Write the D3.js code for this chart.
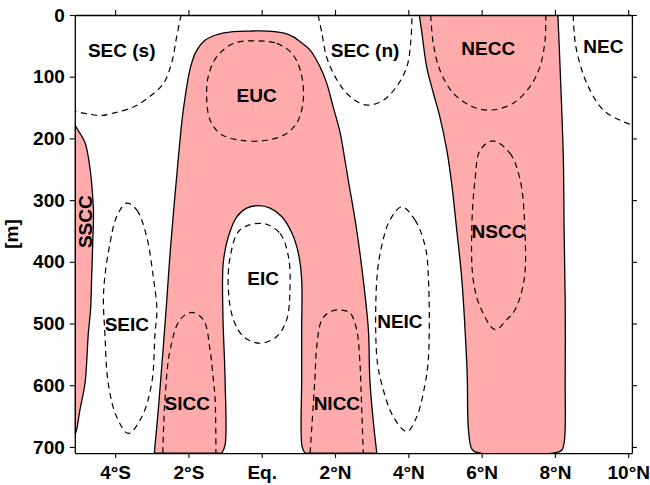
<!DOCTYPE html>
<html>
<head>
<meta charset="utf-8">
<script src="https://cdn.jsdelivr.net/npm/d3@7"></script>
<style>
  html, body { margin: 0; padding: 0; background: #fff; }
  svg { display: block; font-family: "Liberation Sans", Arial, Helvetica, sans-serif; }
</style>
</head>
<body>
<svg id="chart" width="650" height="485"></svg>
<script>
// ---------------- data (latitude [deg, N positive], depth [m]) ----------------
const latTicks = [-4, -2, 0, 2, 4, 6, 8, 10];
const latLabels = ["4°S", "2°S", "Eq.", "2°N", "4°N", "6°N", "8°N", "10°N"];
const depthTicks = [0, 100, 200, 300, 400, 500, 600, 700];

// filled (eastward) regions
const ssccRegion = [[-5.1,178],[-5.02,186],[-4.82,207],[-4.68,251],[-4.62,288],[-4.59,320],[-4.61,369],
  [-4.64,425],[-4.67,478],[-4.73,515],[-4.82,596],[-4.96,640],[-5.05,672],[-5.1,681]];
const eucOuter = [[-2.93,710],[-2.80,624],[-2.59,462],[-2.50,386],[-2.28,235],[-2.14,154],[-1.94,84],
  [-1.77,57],[-1.55,41],[-1.23,32],[-0.78,27],[-0.32,26],[0.14,26],[0.58,29],[0.85,35],[1.13,47],
  [1.32,57],[1.59,84],[1.77,110],[1.95,149],[2.14,191],[2.27,235],[2.36,267],[2.59,348],[2.77,429],
  [2.91,510],[2.95,591],[3.04,656],[3.14,710]];
const eucInner = [[1.18,710],[1.10,699],[1.09,591],[1.09,510],[1.09,429],[1.00,386],[0.82,353],
  [0.55,327],[0.23,313],[-0.09,309],[-0.41,313],[-0.68,327],[-0.91,359],[-1.05,402],[-1.06,483],
  [-1.00,591],[-1.00,697],[-1.09,710]];
const neccRegion = [[4.30,0],[4.37,29],[4.50,84],[4.68,126],[4.86,165],[5.05,219],[5.18,272],[5.32,348],
  [5.46,429],[5.59,559],[5.61,591],[5.64,672],[5.73,703],[5.87,709],[8.05,709],[8.19,705],[8.26,689],
  [8.28,591],[8.28,462],[8.25,348],[8.23,235],[8.14,84],[8.08,0]];

// dashed (westward) contours
const secS = [[-2.20,0],[-2.32,35],[-2.46,78],[-2.68,111],[-3.05,132],[-3.50,149],[-4.05,159],
  [-4.41,163],[-4.77,160],[-5.10,156]];
const secN = [[1.54,0],[1.64,29],[1.77,68],[2.05,105],[2.41,132],[2.86,146],[3.32,138],[3.68,116],
  [3.96,84],[4.07,41],[4.10,0]];
const neccDash = [[4.61,0],[4.68,46],[4.86,89],[5.23,127],[5.77,149],[6.28,154],[6.86,143],[7.32,116],
  [7.59,84],[7.73,41],[7.75,0]];
const nec = [[8.50,0],[8.52,25],[8.59,57],[8.87,111],[9.32,154],[9.87,173],[10.1,178]];
const sicc = [[-2.70,710],[-2.64,624],[-2.50,543],[-2.23,494],[-1.91,482],[-1.59,494],[-1.41,543],
  [-1.32,591],[-1.27,624],[-1.25,710]];
const nicc = [[1.32,710],[1.45,591],[1.50,538],[1.64,494],[1.86,481],[2.14,478],[2.41,483],[2.59,510],
  [2.68,564],[2.70,591],[2.77,710]];
const eucDash = [[-0.09,42],[0.41,46],[0.82,62],[1.05,89],[1.14,132],[1.00,170],[0.68,192],[0.14,203],
  [-0.59,203],[-1.14,192],[-1.41,170],[-1.50,138],[-1.46,100],[-1.23,68],[-0.77,46]];
const nscc = [[6.31,204],[6.77,224],[7.05,267],[7.18,348],[7.16,429],[6.91,478],[6.68,494],[6.37,510],
  [5.96,473],[5.77,429],[5.73,348],[5.82,267],[5.96,219]];
const seic = [[-3.69,305],[-3.41,316],[-3.14,359],[-2.96,424],[-2.86,478],[-2.91,515],[-3.00,596],
  [-3.27,651],[-3.64,678],[-3.96,651],[-4.19,596],[-4.28,515],[-4.32,462],[-4.28,424],[-4.14,370],[-3.96,327]];
const eic = [[0.04,338],[0.50,354],[0.73,392],[0.77,446],[0.68,494],[0.41,521],[-0.05,532],[-0.50,521],
  [-0.77,494],[-0.91,446],[-0.86,392],[-0.59,348]];
const neic = [[3.82,311],[4.18,332],[4.46,375],[4.55,429],[4.55,554],[4.46,597],[4.23,651],[3.96,675],
  [3.59,651],[3.27,597],[3.14,554],[3.14,429],[3.27,375],[3.50,332]];

// current names and their anchor (lat, depth)
const labelNames = ["SEC (s)", "EUC", "SEC (n)", "NECC", "NEC", "EIC", "NSCC", "SEIC", "NEIC", "SICC", "NICC"];
const labelLat   = [-3.82, -0.14, 2.82, 6.18, 9.32, 0.04, 6.46, -3.68, 3.77, -2.03, 2.05];
const labelDepth = [57, 130, 57, 54, 51, 427, 351, 502, 497, 630, 629];
const rotLabel = {name: "SSCC", lat: -4.82, depth: 335};

// ---------------- drawing ----------------
const svg = d3.select("#chart");
const x = d3.scaleLinear().domain([-5.1, 10.1]).range([74.8, 631.9]);
const y = d3.scaleLinear().domain([0, 710]).range([15, 453.1]);

const FILL = "#ffabab";
const FONT = 19;

svg.append("defs").append("clipPath").attr("id", "clip")
  .append("rect").attr("x", x(-5.1)).attr("y", y(0))
  .attr("width", x(10.1) - x(-5.1)).attr("height", y(710) - y(0));

const plot = svg.append("g").attr("clip-path", "url(#clip)");

const open = d3.line().x(d => x(d[0])).y(d => y(d[1])).curve(d3.curveCatmullRom.alpha(0.5));
const closed = d3.line().x(d => x(d[0])).y(d => y(d[1])).curve(d3.curveCatmullRomClosed.alpha(0.5));

const regionPaths = [
  open(ssccRegion) + "Z",
  open(eucOuter) + open(eucInner).replace(/^M/, "L") + "Z",
  open(neccRegion) + "Z"
];
plot.selectAll("path.region").data(regionPaths).join("path")
  .attr("class", "region")
  .attr("d", d => d)
  .attr("fill", FILL)
  .attr("stroke", "#000")
  .attr("stroke-width", 1.3)
  .attr("stroke-linejoin", "round");

const openDashed = [secS, secN, neccDash, nec, sicc, nicc];
const closedDashed = [eucDash, nscc, seic, eic, neic];
plot.selectAll("path.dopen").data(openDashed).join("path")
  .attr("class", "dopen").attr("d", open)
  .attr("fill", "none").attr("stroke", "#000").attr("stroke-width", 1.2)
  .attr("stroke-dasharray", "6,4.5");
plot.selectAll("path.dclosed").data(closedDashed).join("path")
  .attr("class", "dclosed").attr("d", closed)
  .attr("fill", "none").attr("stroke", "#000").attr("stroke-width", 1.2)
  .attr("stroke-dasharray", "6,4.5");

// labels
svg.selectAll("text.cur").data(labelNames).join("text")
  .attr("class", "cur")
  .attr("x", (d, i) => x(labelLat[i]))
  .attr("y", (d, i) => y(labelDepth[i]))
  .attr("dy", "0.35em")
  .attr("text-anchor", "middle")
  .attr("font-size", FONT).attr("font-weight", "bold")
  .attr("fill", "#000")
  .text(d => d);
svg.append("text")
  .attr("transform", `translate(${x(rotLabel.lat)},${y(rotLabel.depth)}) rotate(-90)`)
  .attr("dy", "0.35em")
  .attr("text-anchor", "middle")
  .attr("font-size", FONT).attr("font-weight", "bold")
  .text(rotLabel.name);

// axes
function styleAxis(g) {
  g.select(".domain").attr("stroke", "#000").attr("stroke-width", 1.3);
  g.selectAll(".tick line").attr("stroke", "#000").attr("stroke-width", 1.1);
  g.selectAll(".tick text").attr("font-size", FONT).attr("font-weight", "bold")
    .attr("font-family", '"Liberation Sans", Arial, sans-serif').attr("fill", "#000");
}
svg.append("g").attr("transform", `translate(0,${y(710)})`)
  .call(d3.axisBottom(x).tickValues(latTicks).tickFormat((d, i) => latLabels[i])
    .tickSize(5).tickSizeOuter(0).tickPadding(7.5))
  .call(styleAxis);
svg.append("g").attr("transform", `translate(0,${y(0)})`)
  .call(d3.axisTop(x).tickValues(latTicks).tickFormat("").tickSize(5).tickSizeOuter(0))
  .call(styleAxis);
svg.append("g").attr("transform", `translate(${x(-5.1)},0)`)
  .call(d3.axisLeft(y).tickValues(depthTicks).tickFormat(d3.format("d"))
    .tickSize(5).tickSizeOuter(0).tickPadding(5))
  .call(styleAxis);
svg.append("g").attr("transform", `translate(${x(10.1)},0)`)
  .call(d3.axisRight(y).tickValues(depthTicks).tickFormat("").tickSize(5).tickSizeOuter(0))
  .call(styleAxis);

svg.append("text")
  .attr("transform", `translate(18,${(y(0) + y(710)) / 2}) rotate(-90)`)
  .attr("text-anchor", "middle")
  .attr("font-size", FONT).attr("font-weight", "bold")
  .text("[m]");
</script>
</body>
</html>
